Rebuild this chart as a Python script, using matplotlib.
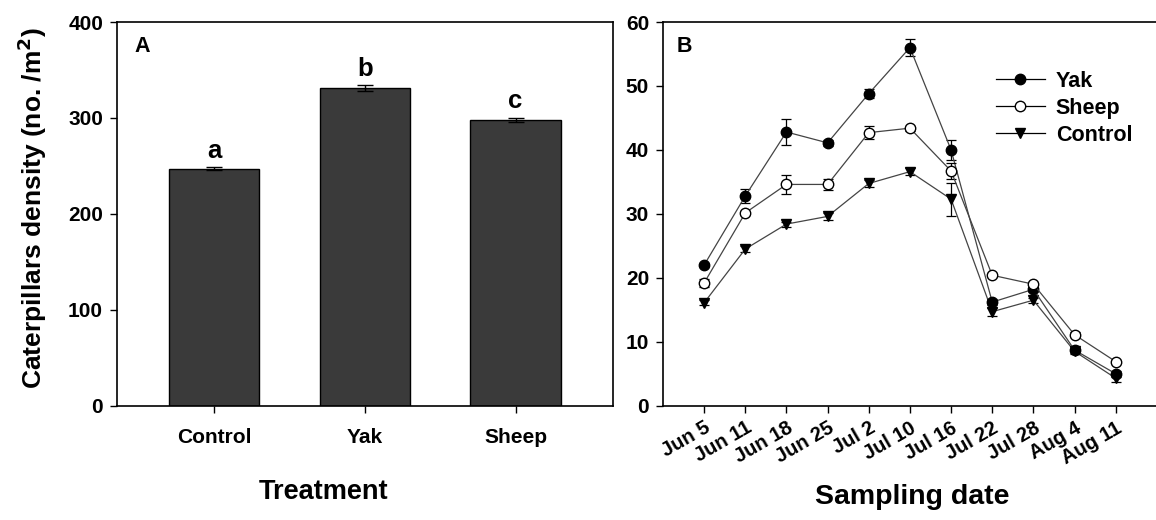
import matplotlib
matplotlib.use("Agg")
import matplotlib.pyplot as plt
from matplotlib.lines import Line2D

plt.rcParams['font.family'] = ['Liberation Sans', 'DejaVu Sans']
plt.rcParams['font.weight'] = 'bold'

# ---- Panel A data ----
treatments = ["Control", "Yak", "Sheep"]
density = [247, 331, 298]
density_err = [1.5, 3, 2]
letters = ["a", "b", "c"]

# ---- Panel B data ----
dates = ["Jun 5", "Jun 11", "Jun 18", "Jun 25", "Jul 2", "Jul 10",
         "Jul 16", "Jul 22", "Jul 28", "Aug 4", "Aug 11"]
yak = [22.0, 32.8, 42.8, 41.1, 48.8, 56.0, 40.0, 16.2, 18.2, 8.7, 5.0]
yak_err = [0.3, 1.1, 2.0, 0.5, 0.7, 1.3, 1.6, 0.5, 0.4, 0.4, 0.5]
sheep = [19.2, 30.15, 34.6, 34.6, 42.7, 43.4, 36.7, 20.4, 19.0, 11.1, 6.9]
sheep_err = [0.6, 0.3, 1.5, 0.9, 1.0, 0.4, 1.2, 0.3, 0.4, 0.4, 0.3]
control = [16.1, 24.5, 28.4, 29.6, 34.75, 36.6, 32.3, 14.7, 16.5, 8.5, 4.3]
control_err = [0.4, 0.4, 0.4, 0.5, 0.5, 0.5, 2.6, 0.6, 0.4, 0.4, 0.6]

W, H = 1156, 520
fig = plt.figure(figsize=(W / 100, H / 100), dpi=100)

def px_axes(l, r, t, b):
    return fig.add_axes([l / W, 1 - b / H, (r - l) / W, (b - t) / H])

# ---------------- Panel A ----------------
axA = px_axes(117, 612.7, 22, 405.7)
xa = range(len(treatments))
axA.bar(xa, density, width=0.6, color='#3a3a3a', edgecolor='black', linewidth=1, zorder=2)
axA.errorbar(xa, density, yerr=density_err, fmt='none', ecolor='black',
             elinewidth=1, capsize=5.5, capthick=1, zorder=3)
for i, (v, e, l) in enumerate(zip(density, density_err, letters)):
    axA.text(i, v + e + 5, l, ha='center', va='bottom', fontsize=18.5, fontweight='bold')
axA.set_xlim(-0.645, 2.645)
axA.set_ylim(0, 400)
axA.set_yticks([0, 100, 200, 300, 400])
axA.set_xticks(list(xa))
axA.set_xticklabels(treatments)
axA.tick_params(axis='y', direction='out', length=5, width=1, labelsize=15, pad=5)
axA.tick_params(axis='x', direction='out', length=5, width=1, labelsize=15, pad=11)
for s in axA.spines.values():
    s.set_linewidth(1.2)
axA.text(0.036, 0.935, "A", transform=axA.transAxes, fontsize=15.5, fontweight='bold',
         ha='left', va='center')

# ---------------- Panel B ----------------
axB = px_axes(663, 1198, 22, 405.7)
xb = list(range(len(dates)))
line_kw = dict(color='#444444', linewidth=0.9, markersize=7.5, elinewidth=0.9,
               capsize=3.5, capthick=0.9, ecolor='black')
axB.errorbar(xb, yak, yerr=yak_err, marker='o', mfc='black', mec='black', zorder=4, **line_kw)
axB.errorbar(xb, sheep, yerr=sheep_err, marker='o', mfc='white', mec='black', zorder=5, **line_kw)
axB.errorbar(xb, control, yerr=control_err, marker='v', mfc='black', mec='black', zorder=3, **line_kw)
axB.set_xlim(-1, 12)
axB.set_ylim(0, 60)
axB.set_yticks([0, 10, 20, 30, 40, 50, 60])
axB.set_xticks(xb)
axB.set_xticklabels(dates, rotation=30, ha='right', rotation_mode='anchor')
axB.tick_params(axis='y', direction='out', length=5, width=1, labelsize=15, pad=5)
axB.tick_params(axis='x', direction='out', length=5, width=1, labelsize=14.5, pad=4)
axB.spines['right'].set_visible(False)
for s in axB.spines.values():
    s.set_linewidth(1.2)
axB.text(0.026, 0.935, "B", transform=axB.transAxes, fontsize=15.5, fontweight='bold',
         ha='left', va='center')

handles = [
    Line2D([], [], color='black', lw=0.9, marker='o', mfc='black', mec='black', ms=7.5),
    Line2D([], [], color='black', lw=0.9, marker='o', mfc='white', mec='black', ms=7.5),
    Line2D([], [], color='black', lw=0.9, marker='v', mfc='black', mec='black', ms=7.5),
]
fig.legend(handles, ["Yak", "Sheep", "Control"], loc='upper left',
           bbox_to_anchor=(987 / W, 1 - 62 / H), frameon=False,
           prop={'size': 15.5, 'weight': 'bold'}, handlelength=2.3,
           handletextpad=0.5, labelspacing=0.28, borderaxespad=0)

# ---- axis titles ----
fig.text(32 / W, 1 - 208 / H, "Caterpillars density (no. /m$^\\mathbf{2}$)", rotation=90,
         ha='center', va='center', fontsize=19, fontweight='bold')
fig.text(324 / W, 1 - 492 / H, "Treatment", ha='center', va='center',
         fontsize=19.5, fontweight='bold')
fig.text(912 / W, 1 - 497 / H, "Sampling date", ha='center', va='center',
         fontsize=20.5, fontweight='bold')

fig.savefig("out.png", dpi=100)
